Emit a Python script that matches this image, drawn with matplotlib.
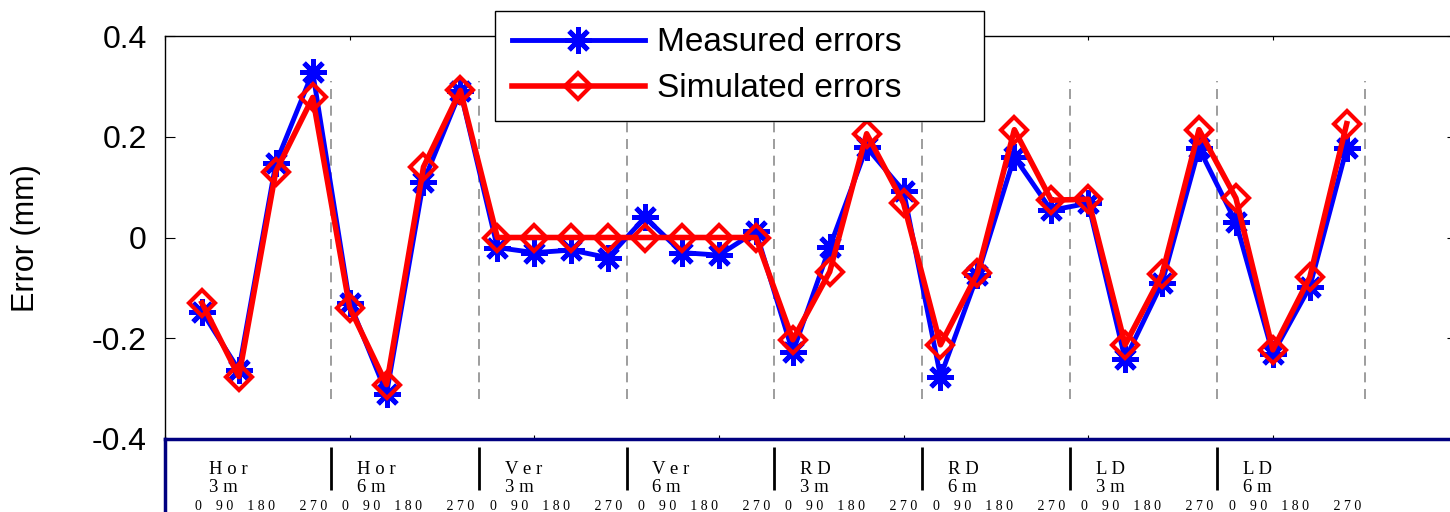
import matplotlib
matplotlib.use("Agg")
import matplotlib.pyplot as plt

# Error per test pose: 8 groups (direction / distance) x 4 angles each
groups = ["H o r", "H o r", "V e r", "V e r", "R D", "R D", "L D", "L D"]
distances = ["3 m", "6 m", "3 m", "6 m", "3 m", "6 m", "3 m", "6 m"]
angle_text = "0    9 0    1 8 0       2 7 0"

measured = [-0.147, -0.263, 0.147, 0.328,
            -0.130, -0.310, 0.111, 0.290,
            -0.020, -0.030, -0.025, -0.040,
            0.040, -0.030, -0.035, 0.012,
            -0.228, -0.019, 0.179, 0.092,
            -0.276, -0.075, 0.160, 0.054,
            0.068, -0.242, -0.090, 0.177,
            0.030, -0.231, -0.098, 0.177]
simulated = [-0.130, -0.276, 0.131, 0.278,
             -0.139, -0.292, 0.140, 0.292,
             0.0, 0.0, 0.0, 0.0,
             0.0, 0.0, 0.0, 0.0,
             -0.203, -0.068, 0.206, 0.068,
             -0.213, -0.071, 0.214, 0.074,
             0.076, -0.213, -0.073, 0.214,
             0.078, -0.223, -0.079, 0.226]

yticks = [-0.4, -0.2, 0, 0.2, 0.4]
ytick_labels = ["-0.4", "-0.2", "0", "0.2", "0.4"]

plt.rcParams["font.family"] = ["Liberation Sans", "DejaVu Sans"]

x = list(range(1, len(measured) + 1))
per_group = 4
bounds = [per_group * g + per_group + 0.5 for g in range(len(groups))]

fig = plt.figure(figsize=(14.5, 5.12), dpi=100)
ax = fig.add_axes([165 / 1450, 73 / 512, 1292.5 / 1450, 403 / 512])

ax.vlines(bounds, -0.32, 0.31, colors="#8c8c8c", linestyles=(0, (6, 4)), lw=1.2, zorder=1)
ax.plot(x, measured, color="blue", lw=3.5, marker=(8, 2, 0), ms=19, mew=3.5,
        label="Measured errors", zorder=3)
ax.plot(x, simulated, color="red", lw=4, marker="D", ms=13.5, mew=3, mfc="none",
        label="Simulated errors", zorder=4)

ax.set_xlim(0, 35)
ax.set_ylim(-0.4, 0.4)
ax.set_yticks(yticks)
ax.set_yticklabels(ytick_labels)
ax.set_xticks(range(0, 36, 5))
ax.set_xticklabels([])
ax.tick_params(axis="y", direction="in", length=7, left=True, right=True, labelsize=23, pad=13)
ax.tick_params(axis="x", direction="in", length=3, top=True, bottom=True)
for sp in ax.spines.values():
    sp.set_linewidth(1)

fig.text(26 / 1450, 1 - 238 / 512, "Error (mm)", rotation=90, ha="center", va="center", size=22)

# label panel under the axes
lab = fig.add_axes([165 / 1450, 0, 1292.5 / 1450, 73 / 512])
lab.set_xlim(0, 35)
lab.set_ylim(0, 1)
lab.set_xticks([])
lab.set_yticks([])
for name, sp in lab.spines.items():
    if name in ("top", "left"):
        sp.set_color("#000080")
        sp.set_linewidth(2.5)
    else:
        sp.set_visible(False)
lab.vlines(bounds[:-1], 0.30, 0.89, colors="black", lw=2)
serif = ["Liberation Serif", "DejaVu Serif"]
for g in range(len(groups)):
    x0 = per_group * g
    lab.text(x0 + 1.2, 0.52, groups[g], family=serif, size=13.5, va="baseline")
    lab.text(x0 + 1.2, 0.274, distances[g], family=serif, size=13.5, va="baseline")
    lab.text(x0 + 0.8, 0.027, angle_text, family=serif, size=10, va="baseline")

fig.legend(loc="upper left", bbox_to_anchor=(495 / 1450, 1 - 10.7 / 512, 489 / 1450, 0),
           mode="expand", prop={"size": 24}, frameon=True, fancybox=False, framealpha=1,
           edgecolor="black", borderpad=0.5, labelspacing=0.45, handlelength=4.0,
           handletextpad=0.35, borderaxespad=0, numpoints=1)

fig.savefig("out.png", dpi=100)
